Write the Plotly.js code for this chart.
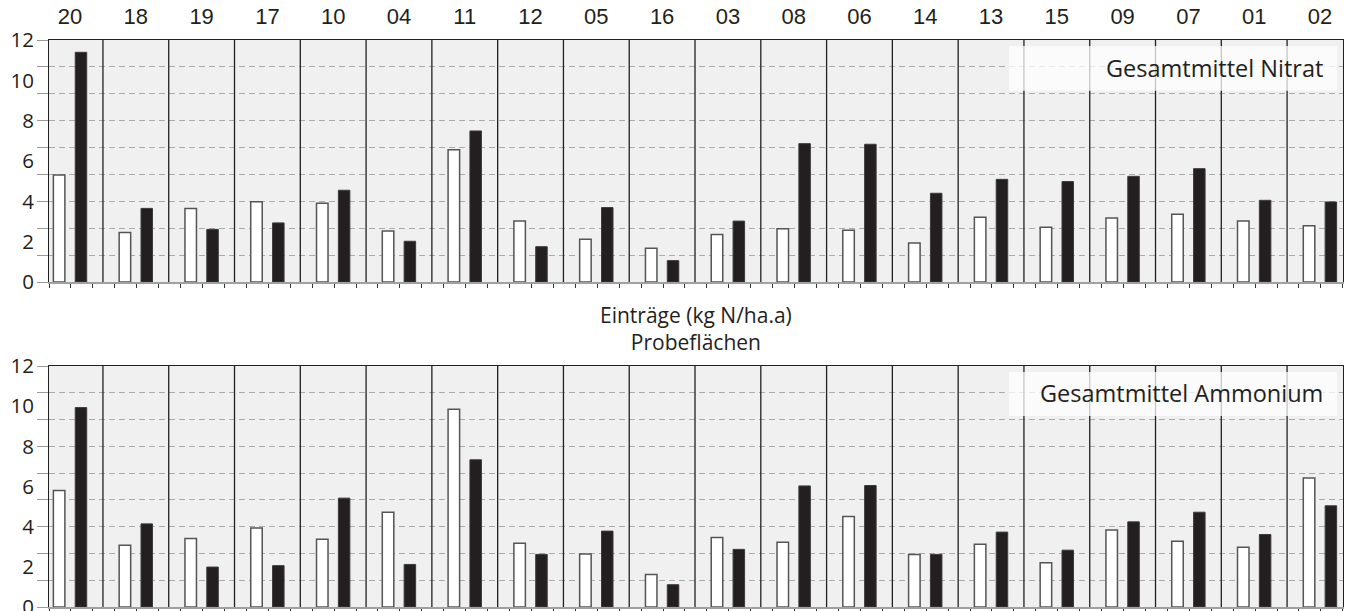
<!DOCTYPE html>
<html><head><meta charset="utf-8">
<script src="https://cdn.plot.ly/plotly-3.0.1.min.js"></script>
<style>html,body{margin:0;padding:0;background:#fff}#chart{width:1351px;height:611px}</style>
</head><body><div id="chart"></div>
<script>
// ---- data ----
const categories = ["20","18","19","17","10","04","11","12","05","16","03","08","06","14","13","15","09","07","01","02"];
const nitratWhite   = [5.31,2.45,3.65,3.98,3.90,2.53,6.56,3.02,2.12,1.67,2.36,2.64,2.56,1.93,3.21,2.71,3.17,3.36,3.02,2.79];
const nitratBlack   = [11.39,3.65,2.61,2.93,4.55,2.02,7.49,1.75,3.69,1.06,3.02,6.86,6.83,4.40,5.09,4.98,5.24,5.62,4.05,3.97];
const ammoniumWhite = [5.80,3.07,3.41,3.94,3.38,4.72,9.85,3.17,2.64,1.62,3.46,3.22,4.51,2.62,3.13,2.20,3.83,3.27,2.97,6.43];
const ammoniumBlack = [9.93,4.14,1.99,2.06,5.42,2.12,7.33,2.62,3.78,1.11,2.87,6.03,6.05,2.62,3.73,2.83,4.24,4.72,3.61,5.04];
const yTickLabels = [0,2,4,6,8,10,12];
const centerTitle = ["Einträge (kg N/ha.a)","Probeflächen"];
const panelLabels = ["Gesamtmittel Nitrat","Gesamtmittel Ammonium"];

// ---- layout helpers ----
const idx = categories.map((c,i)=>i);
const xRange = [-0.32, 19.35];
const yRange = [0, 12];
const xTicks = []; for (let k=0; xRange[0]+k/3 <= xRange[1]+1e-6; k++) xTicks.push(xRange[0]+k/3);
const yGrid = []; for (let k=0; k<=9; k++) yGrid.push(k*yRange[1]/9);
const bounds = idx.slice(0,-1).map(i=>i+0.5);

const ink = '#231f20';
const whiteBar = {color:'#ffffff', line:{color:'#555555', width:1.5}};
const blackBar = {color:ink, line:{color:'#3d3a3b', width:1}};

const dummy = (xa, ya) => ({type:'scatter', mode:'markers', x:[null], y:[null], xaxis:xa, yaxis:ya,
  marker:{opacity:0}, hoverinfo:'skip', showlegend:false});

const traces = [
  {type:'bar', x:idx, y:nitratWhite, xaxis:'x', yaxis:'y', marker:whiteBar, hoverinfo:'skip'},
  {type:'bar', x:idx, y:nitratBlack, xaxis:'x', yaxis:'y', marker:blackBar, hoverinfo:'skip'},
  {type:'bar', x:idx, y:ammoniumWhite, xaxis:'x3', yaxis:'y3', marker:whiteBar, hoverinfo:'skip'},
  {type:'bar', x:idx, y:ammoniumBlack, xaxis:'x3', yaxis:'y3', marker:blackBar, hoverinfo:'skip'},
  dummy('x2','y2'), dummy('x4','y4')
];

function xBottom(anchor){
  return {anchor:anchor, domain:[0,1], type:'linear', range:xRange, tickmode:'array', tickvals:xTicks,
    ticks:'outside', ticklen:4, tickwidth:1, tickcolor:'#333', showticklabels:false, showgrid:false,
    zeroline:false, showline:true, linecolor:'#a0a0a0', linewidth:2, fixedrange:true};
}
function xTop(over, anchor, labels){
  return {overlaying:over, anchor:anchor, side:'top', type:'linear', range:xRange, tickmode:'array',
    tickvals:idx, ticktext:categories, ticks:'', showticklabels:labels, ticklabelstandoff:6,
    tickfont:{family:'Liberation Sans, Arial, sans-serif', size:22, color:ink},
    showgrid:false, zeroline:false, showline:true, linecolor:ink, linewidth:1.3};
}
function yGridAx(anchor, domain){
  return {anchor:anchor, domain:domain, range:yRange, tickmode:'array', tickvals:yGrid,
    ticks:'outside', ticklen:11, tickwidth:1, tickcolor:'#9a9a9a', showticklabels:false,
    showgrid:true, gridcolor:'#ababab', gridwidth:1, griddash:'6px,4px', zeroline:false,
    showline:true, linecolor:ink, linewidth:1.3, mirror:true};
}
function yLabelAx(over, anchor){
  return {overlaying:over, anchor:anchor, side:'left', range:yRange, tickmode:'array', tickvals:yTickLabels,
    ticks:'', ticklabelstandoff:14, ticklabeloverflow:'allow',
    tickfont:{family:'Open Sans, sans-serif', size:20.5, color:ink},
    showgrid:false, zeroline:false, showline:false};
}

const shapes = [];
bounds.forEach(b=>{
  shapes.push({type:'line', xref:'x', yref:'y domain', x0:b, x1:b, y0:0, y1:1, line:{color:ink, width:1.3}});
  shapes.push({type:'line', xref:'x3', yref:'y3 domain', x0:b, x1:b, y0:0, y1:1, line:{color:ink, width:1.3}});
});
shapes.push({type:'rect', xref:'x domain', yref:'y domain', x0:0.742, x1:0.9954, y0:0.7905, y1:0.975,
  fillcolor:'rgba(255,255,255,0.75)', line:{width:0}});
shapes.push({type:'rect', xref:'x3 domain', yref:'y3 domain', x0:0.742, x1:0.9954, y0:0.7925, y1:0.975,
  fillcolor:'rgba(255,255,255,0.75)', line:{width:0}});

const annFont = {family:'Open Sans, sans-serif', size:23.5, color:ink};
const annotations = [
  {xref:'x domain', yref:'y domain', x:0.9861, y:0.884, xanchor:'right', yanchor:'middle', showarrow:false,
   text:panelLabels[0], font:annFont},
  {xref:'x3 domain', yref:'y3 domain', x:0.9861, y:0.890, xanchor:'right', yanchor:'middle', showarrow:false,
   text:panelLabels[1], font:annFont},
  {xref:'paper', yref:'paper', x:0.5, y:0.4905, xanchor:'center', yanchor:'middle', showarrow:false,
   text:centerTitle.join('<br>'), font:{family:'Open Sans, sans-serif', size:21, color:ink}}
];

const layout = {
  width:1351, height:611, margin:{l:49, r:8, t:40, b:4, pad:0},
  paper_bgcolor:'#ffffff', plot_bgcolor:'#f0f0f0', showlegend:false,
  barmode:'group', bargap:0.336, bargroupgap:0.473,
  xaxis:xBottom('y'), xaxis2:xTop('x','y',true),
  xaxis3:xBottom('y3'), xaxis4:xTop('x3','y3',false),
  yaxis:yGridAx('x',[0.5732,1]), yaxis2:yLabelAx('y','x'),
  yaxis3:yGridAx('x3',[0,0.4250]), yaxis4:yLabelAx('y3','x3'),
  shapes:shapes, annotations:annotations
};

Plotly.newPlot('chart', traces, layout, {staticPlot:true, displayModeBar:false});
</script></body></html>
